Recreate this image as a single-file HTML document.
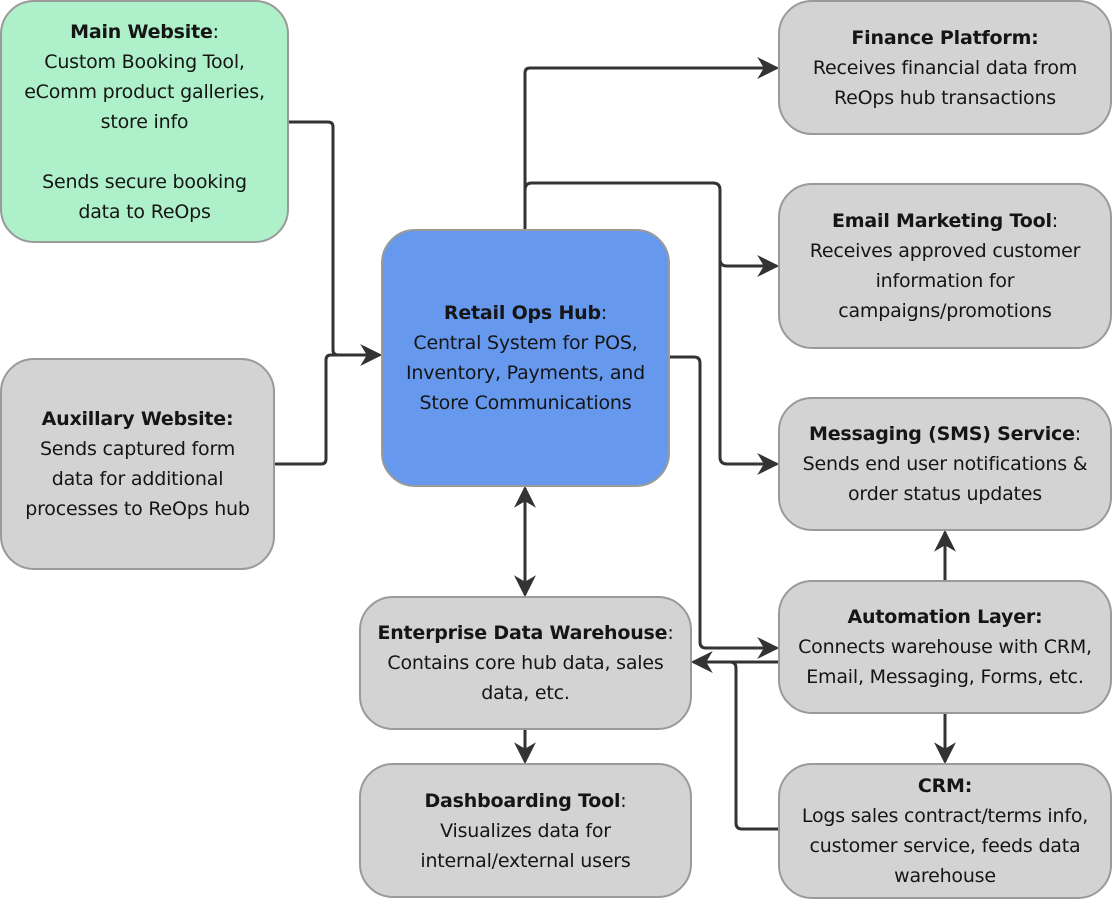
<!DOCTYPE html>
<html><head><meta charset="utf-8"><style>
body{margin:0;width:1112px;height:899px;background:#fff;position:relative;overflow:hidden;font-family:"DejaVu Sans",sans-serif;}
.b{position:absolute;box-sizing:border-box;border:2px solid #9a9a9a;border-radius:34px;background:#d3d3d3;display:flex;align-items:center;justify-content:center;text-align:center;font-size:19px;line-height:30px;color:#151515;letter-spacing:-0.2px}
.b b{font-weight:bold}
svg{position:absolute;left:0;top:0}
</style></head><body>
<svg width="1112" height="899">
<defs>
<marker id="m" viewBox="0 0 10 10" refX="9" refY="5" markerWidth="22" markerHeight="22" orient="auto-start-reverse" markerUnits="userSpaceOnUse"><path d="M0,0 L10,5 L0,10 L3,5 Z" fill="#333"/></marker></defs>
<g fill="none" stroke="#333" stroke-width="3" stroke-linejoin="round">
<path d="M289,122 H328 Q333,122 333,127 V350 Q333,355 338,355 H380" marker-end="url(#m)"/>
<path d="M275,464 H321 Q326,464 326,459 V360 Q326,355 331,355 H380"/>
<path d="M525,229 V73 Q525,68 530,68 H777" marker-end="url(#m)"/>
<path d="M525,190 Q525,183 532,183 H713 Q720,183 720,190 V259 Q720,266 727,266 H777" marker-end="url(#m)"/>
<path d="M720,260 V457 Q720,464 727,464 H777" marker-end="url(#m)"/>
<path d="M670,357 H694 Q700,357 700,363 V642 Q700,648 706,648 H777" marker-end="url(#m)"/>
<path d="M778,662 H693" marker-end="url(#m)"/>
<path d="M778,829 H742 Q736,829 736,823 V668 Q736,662 730,662 H720"/>
<path d="M525,488 V595" marker-start="url(#m)" marker-end="url(#m)"/>
<path d="M525,730 V762" marker-end="url(#m)"/>
<path d="M945,580 V532" marker-end="url(#m)"/>
<path d="M945,714 V762" marker-end="url(#m)"/>
</g></svg>
<div class="b" style="left:0;top:0;width:289px;height:243px;background:#adf0c9"><div><b>Main Website</b>:<br>Custom Booking Tool,<br>eComm product galleries,<br>store info<br><br>Sends secure booking<br>data to ReOps</div></div>
<div class="b" style="left:0;top:358px;width:275px;height:212px"><div><b>Auxillary Website:</b><br>Sends captured form<br>data for additional<br>processes to ReOps hub</div></div>
<div class="b" style="left:381px;top:229px;width:289px;height:258px;background:#6699ee"><div><b>Retail Ops Hub</b>:<br>Central System for POS,<br>Inventory, Payments, and<br>Store Communications</div></div>
<div class="b" style="left:778px;top:0;width:334px;height:135px"><div><b>Finance Platform:</b><br>Receives financial data from<br>ReOps hub transactions</div></div>
<div class="b" style="left:778px;top:183px;width:334px;height:166px"><div><b>Email Marketing Tool</b>:<br>Receives approved customer<br>information for<br>campaigns/promotions</div></div>
<div class="b" style="left:778px;top:397px;width:334px;height:134px"><div><b>Messaging (SMS) Service</b>:<br>Sends end user notifications &amp;<br>order status updates</div></div>
<div class="b" style="left:778px;top:580px;width:334px;height:134px"><div><b>Automation Layer:</b><br>Connects warehouse with CRM,<br>Email, Messaging, Forms, etc.</div></div>
<div class="b" style="left:778px;top:763px;width:334px;height:136px"><div><b>CRM:</b><br>Logs sales contract/terms info,<br>customer service, feeds data<br>warehouse</div></div>
<div class="b" style="left:359px;top:596px;width:333px;height:134px"><div><b>Enterprise Data Warehouse</b>:<br>Contains core hub data, sales<br>data, etc.</div></div>
<div class="b" style="left:359px;top:763px;width:333px;height:135px"><div><b>Dashboarding Tool</b>:<br>Visualizes data for<br>internal/external users</div></div>
</body></html>
